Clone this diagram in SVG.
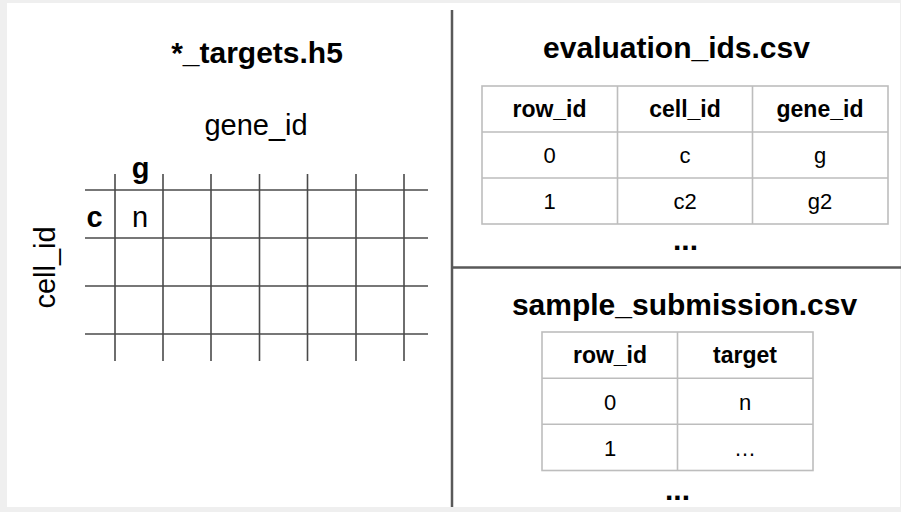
<svg xmlns="http://www.w3.org/2000/svg" width="901" height="512" viewBox="0 0 901 512">
<style>
text{font-family:"Liberation Sans",Arial,sans-serif;fill:#000}
.t{font-size:30px;font-weight:bold;text-anchor:middle}
.r{font-size:29px;text-anchor:middle}
.b28{font-size:29px;font-weight:bold;text-anchor:middle}
.h{font-size:23px;font-weight:bold;text-anchor:middle}
.d{font-size:22px;text-anchor:middle}
.grid line{stroke:#4a4a4a;stroke-width:1.6}
.tbl line,.tbl rect{stroke:#bdbdbd;stroke-width:1.6;fill:none}
.div{stroke:#595959;stroke-width:2.5}
</style>
<rect x="0" y="0" width="901" height="512" fill="#efefef"/>
<rect x="7" y="3" width="893" height="504" fill="#fff"/>
<g id="dividers">
<line class="div" x1="452" y1="10" x2="452" y2="507"/>
<line class="div" x1="452" y1="267.5" x2="901" y2="267.5"/>
</g>
<g id="targets-h5">
<text class="t" x="257" y="63">*_targets.h5</text>
<text class="r" x="256" y="135">gene_id</text>
<text class="r" transform="translate(55,267.5) rotate(-90)" x="0" y="0">cell_id</text>
<g class="grid">
<line x1="85" y1="190" x2="428" y2="190"/>
<line x1="85" y1="238" x2="428" y2="238"/>
<line x1="85" y1="286" x2="428" y2="286"/>
<line x1="85" y1="334" x2="428" y2="334"/>
<line x1="115" y1="174" x2="115" y2="361"/>
<line x1="163" y1="174" x2="163" y2="361"/>
<line x1="211" y1="174" x2="211" y2="361"/>
<line x1="259.5" y1="174" x2="259.5" y2="361"/>
<line x1="307.5" y1="174" x2="307.5" y2="361"/>
<line x1="356" y1="174" x2="356" y2="361"/>
<line x1="404" y1="174" x2="404" y2="361"/>
</g>
<text class="b28" x="140.5" y="178">g</text>
<text class="b28" x="94.5" y="227">c</text>
<text class="r" x="140" y="227">n</text>
</g>
<g id="evaluation-ids">
<text class="t" x="676.5" y="58">evaluation_ids.csv</text>
<g class="tbl">
<rect x="482" y="86" width="406" height="138"/>
<line x1="617.5" y1="86" x2="617.5" y2="224"/>
<line x1="752.5" y1="86" x2="752.5" y2="224"/>
<line x1="482" y1="132" x2="888" y2="132"/>
<line x1="482" y1="178" x2="888" y2="178"/>
</g>
<text class="h" x="549.5" y="117">row_id</text>
<text class="h" x="685" y="117">cell_id</text>
<text class="h" x="820" y="117">gene_id</text>
<text class="d" x="549.5" y="163">0</text>
<text class="d" x="685" y="163">c</text>
<text class="d" x="820" y="163">g</text>
<text class="d" x="549.5" y="209">1</text>
<text class="d" x="685" y="209">c2</text>
<text class="d" x="820" y="209">g2</text>
<text class="t" x="685.5" y="250">...</text>
</g>
<g id="sample-submission">
<text class="t" x="684.5" y="315">sample_submission.csv</text>
<g class="tbl">
<rect x="542" y="332" width="271" height="138.5"/>
<line x1="677.5" y1="332" x2="677.5" y2="470.5"/>
<line x1="542" y1="378.3" x2="813" y2="378.3"/>
<line x1="542" y1="424.3" x2="813" y2="424.3"/>
</g>
<text class="h" x="610" y="363">row_id</text>
<text class="h" x="745" y="363">target</text>
<text class="d" x="610" y="410">0</text>
<text class="d" x="745" y="410">n</text>
<text class="d" x="610" y="456">1</text>
<text class="d" x="745" y="456">…</text>
<text class="t" x="677.5" y="500">...</text>
</g>
</svg>
